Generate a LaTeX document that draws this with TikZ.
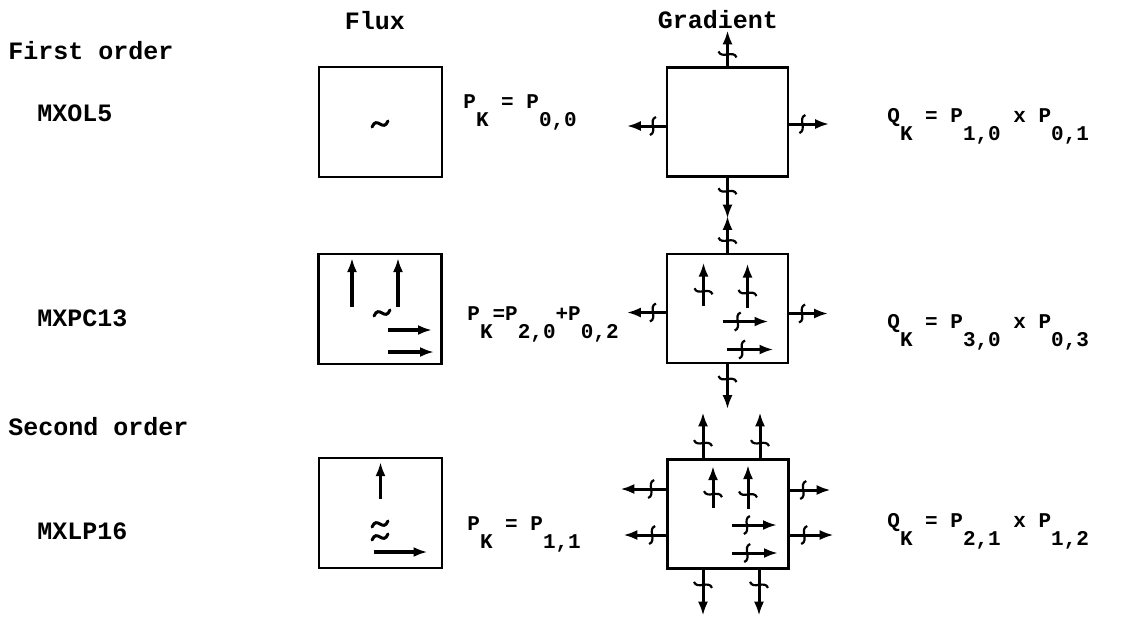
\documentclass[tikz,border=0pt]{standalone}
\usepackage{fontspec}
\setmainfont{Liberation Mono}
\usetikzlibrary{arrows.meta, calc, decorations.markings}

\newcommand{\lblfont}{\fontsize{12.5}{15}\selectfont\bfseries}
\newcommand{\eqfont}{\fontsize{10.5}{12.5}\selectfont\bfseries}
\newcommand{\lowsub}[1]{\raisebox{-9pt}{#1}}

\begin{document}
\begin{tikzpicture}[
    x=0.5pt, y=-0.5pt,
    lbl/.style={font=\lblfont, anchor=base west, inner sep=0pt},
    head/.style={font=\lblfont, anchor=base, inner sep=0pt},
    formula/.style={font=\eqfont, anchor=base west, inner sep=0pt},
    fluxbox/.style={draw, line width=1.2pt, minimum width=61.5pt, minimum height=55pt, inner sep=0pt},
    gradbox/.style={draw, line width=1.2pt, minimum width=60.5pt, minimum height=54.5pt, inner sep=0pt},
    wave/.pic={\draw[line width=1.5pt, line cap=round] (-8,3) .. controls (-3,-9) and (3,9) .. (8,-3);},
    fluxarrow/.style={-{Latex[length=7pt,width=5pt]}, line width=1.8pt},
    gradarrow/.style={-{Latex[length=7pt,width=5pt]}, line width=1.5pt, postaction={decorate},
      decoration={markings, mark=at position 0.33 with {\draw[line width=1.1pt, -] (-1.5pt,-4.5pt) .. controls (2.5pt,-3pt) and (-2.5pt,3pt) .. (1.5pt,4.5pt);}}},
]
  \fill[white] (0,0) rectangle (1141,617);
  \useasboundingbox (0,0) rectangle (1141,617);

  % headings and row labels
  \node[head] (hdflux) at (375,29) {Flux};
  \node[head] (hdgrad) at (718,28) {Gradient};
  \node[lbl] (first) at (8,59) {First order};
  \node[lbl] (mxol) at (37,121) {MXOL5};
  \node[lbl] (mxpc) at (37,326) {MXPC13};
  \node[lbl] (second) at (8,435) {Second order};
  \node[lbl] (mxlp) at (37,539) {MXLP16};

  % flux boxes
  \node[fluxbox] (f1) at (380.5,122) {};
  \pic at (380,124) {wave};

  \node[fluxbox] (f2) at (380,309) {};
  \pic at (382,313) {wave};
  \draw[fluxarrow] ($(f2.center)+(-28,-2)$) -- ++(0,-49);
  \draw[fluxarrow] ($(f2.center)+(18,-2)$) -- ++(0,-49);
  \draw[fluxarrow] ($(f2.center)+(8,21)$) -- ++(44,0);
  \draw[fluxarrow] ($(f2.center)+(8,43)$) -- ++(46,0);

  \node[fluxbox] (f3) at (380.5,513) {};
  \pic at (380,524) {wave};
  \pic at (380,537) {wave};
  \draw[fluxarrow] ($(f3.center)+(0,-14)$) -- ++(0,-37);
  \draw[fluxarrow] ($(f3.center)+(-7,39)$) -- ++(54,0);

  % P_K formulas
  \node[formula] (pk1) at (463,108) {P\lowsub{K} = P\lowsub{0,0}};
  \node[formula] (pk2) at (467,320) {P\lowsub{K}=P\lowsub{2,0}+P\lowsub{0,2}};
  \node[formula] (pk3) at (467,530) {P\lowsub{K} = P\lowsub{1,1}};

  % gradient boxes
  \node[gradbox] (g1) at (727.5,122) {};
  \draw[gradarrow] (g1.north) -- ++(0,-36);
  \draw[gradarrow] ($(g1.west)+(0,4)$) -- ++(-39,0);
  \draw[gradarrow] ($(g1.east)+(0,2)$) -- ++(40,0);
  \draw[gradarrow] (g1.south) -- ++(0,41);

  \node[gradbox] (g2) at (727.5,308.5) {};
  \draw[gradarrow] (g2.north) -- ++(0,-37);
  \draw[gradarrow] ($(g2.center)+(-24,-3)$) -- ++(0,-43);
  \draw[gradarrow] ($(g2.center)+(20,-1)$) -- ++(0,-44);
  \draw[gradarrow] ($(g2.center)+(-5,13)$) -- ++(46,0);
  \draw[gradarrow] ($(g2.center)+(-1,41)$) -- ++(47,0);
  \draw[gradarrow] ($(g2.west)+(0,4)$) -- ++(-39,0);
  \draw[gradarrow] ($(g2.east)+(0,5)$) -- ++(39,0);
  \draw[gradarrow] (g2.south) -- ++(0,45);

  \node[gradbox] (g3) at (728,514) {};
  \draw[gradarrow] ($(g3.north)+(-25,0)$) -- ++(0,-46);
  \draw[gradarrow] ($(g3.north)+(32,0)$) -- ++(0,-46);
  \draw[gradarrow] ($(g3.center)+(-15,-6)$) -- ++(0,-42);
  \draw[gradarrow] ($(g3.center)+(20,-5)$) -- ++(0,-44);
  \draw[gradarrow] ($(g3.center)+(4,11)$) -- ++(45,0);
  \draw[gradarrow] ($(g3.center)+(4,39)$) -- ++(46,0);
  \draw[gradarrow] ($(g3.west)+(0,-25)$) -- ++(-46,0);
  \draw[gradarrow] ($(g3.west)+(0,21)$) -- ++(-43,0);
  \draw[gradarrow] ($(g3.east)+(0,-24)$) -- ++(41,0);
  \draw[gradarrow] ($(g3.east)+(0,21)$) -- ++(44,0);
  \draw[gradarrow] ($(g3.south)+(-25,0)$) -- ++(0,46);
  \draw[gradarrow] ($(g3.south)+(31,0)$) -- ++(0,46);

  % Q_K formulas
  \node[formula] (qk1) at (887,122) {Q\lowsub{K} = P\lowsub{1,0} x P\lowsub{0,1}};
  \node[formula] (qk2) at (887,328) {Q\lowsub{K} = P\lowsub{3,0} x P\lowsub{0,3}};
  \node[formula] (qk3) at (887,527) {Q\lowsub{K} = P\lowsub{2,1} x P\lowsub{1,2}};
\end{tikzpicture}
\end{document}
